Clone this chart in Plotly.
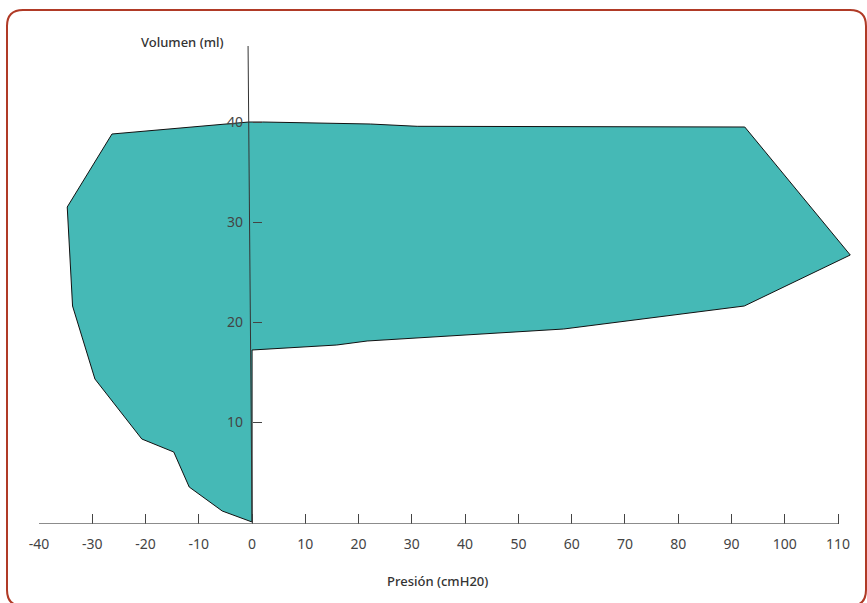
import plotly.graph_objects as go

# Data: pressure-volume loop (outline vertices)
pressure = [0, -5.6, -11.8, -14.7, -20.7, -29.5, -33.7, -34.7, -26.3, -0.6, 2.0,
            22.2, 31.0, 92.5, 112.3, 92.4, 58.5, 21.6, 15.9, 0.0, 0.0]
volume = [0, 1.1, 3.5, 7.0, 8.3, 14.3, 21.6, 31.5, 38.8, 40.0, 40.0,
          39.8, 39.57, 39.5, 26.7, 21.6, 19.3, 18.1, 17.7, 17.2, 0]

x_ticks = [-40, -30, -20, -10, 0, 10, 20, 30, 40, 50, 60, 70, 80, 90, 100, 110]
y_ticks = [10, 20, 30, 40]

x_title = "Presión (cmH20)"
y_title = "Volumen (ml)"

W, H = 867, 603
L, R, T, B = 39, 2, 22, 79
SCALE = 799 / 150.0  # px per x unit
PW, PH = W - L - R, H - T - B
XMIN = -40
XMAX = XMIN + PW / SCALE


def px_to_paper(px, py):
    return (px - L) / PW, (H - B - py) / PH


fig = go.Figure()
fig.add_trace(go.Scatter(
    x=pressure, y=volume, mode="lines", fill="toself",
    fillcolor="#45B9B6", line=dict(color="#111111", width=1),
    hoverinfo="skip", showlegend=False,
))

font = dict(family="Noto Sans, sans-serif", size=14, color="#444444")

fig.update_layout(
    width=W, height=H,
    margin=dict(l=L, r=R, t=T, b=B),
    paper_bgcolor="white", plot_bgcolor="white",
    font=font,
    xaxis=dict(
        range=[XMIN, XMAX], tickvals=x_ticks, ticktext=[str(v) for v in x_ticks],
        ticks="inside", ticklen=10, tickwidth=1.2, tickcolor="#444444",
        showline=False, showgrid=False, zeroline=False, anchor="free", position=0,
        ticklabelstandoff=10, tickfont=font,
    ),
    yaxis=dict(
        range=[-0.2, 50], tickvals=y_ticks, ticktext=[str(v) for v in y_ticks],
        ticks="inside", ticklen=9, tickwidth=1.2, tickcolor="#444444",
        showline=False, showgrid=False, zeroline=False,
        anchor="free", position=(0 - XMIN) / (XMAX - XMIN), side="left",
        ticklabelstandoff=9, tickfont=font,
    ),
)

# horizontal axis line
fig.add_shape(type="line", xref="x", yref="y", x0=x_ticks[0], y0=-0.2,
              x1=x_ticks[-1], y1=-0.2,
              line=dict(color="#666666", width=1.5), layer="above")
# vertical axis line
fig.add_shape(type="line", xref="x", yref="y", x0=-0.75, y0=47.6, x1=0, y1=0,
              line=dict(color="#333333", width=1), layer="above")

# rounded border
x0, y0 = 7, 10
x1, y1 = 866, 606
r = 16


def P(px, py):
    a, b = px_to_paper(px, py)
    return f"{a:.5f},{b:.5f}"


path = (f"M {P(x0 + r, y0)} L {P(x1 - r, y0)} Q {P(x1, y0)} {P(x1, y0 + r)} "
        f"L {P(x1, y1 - r)} Q {P(x1, y1)} {P(x1 - r, y1)} "
        f"L {P(x0 + r, y1)} Q {P(x0, y1)} {P(x0, y1 - r)} "
        f"L {P(x0, y0 + r)} Q {P(x0, y0)} {P(x0 + r, y0)} Z")
fig.add_shape(type="path", xref="paper", yref="paper", path=path,
              line=dict(color="#B03A26", width=2), layer="above")

title_font = dict(family="Noto Sans, sans-serif", size=13, color="#333333", weight=500)
ax, ay = px_to_paper(437, 581)
fig.add_annotation(xref="paper", yref="paper", x=ax, y=ay, text=x_title,
                   showarrow=False, xanchor="center", yanchor="middle", font=title_font)
bx, by = px_to_paper(226, 42)
fig.add_annotation(xref="paper", yref="paper", x=bx, y=by, text=y_title,
                   showarrow=False, xanchor="right", yanchor="middle", font=title_font)

fig.write_html("out.html", config={"displayModeBar": False},
               post_script="document.body.style.margin='0';")
